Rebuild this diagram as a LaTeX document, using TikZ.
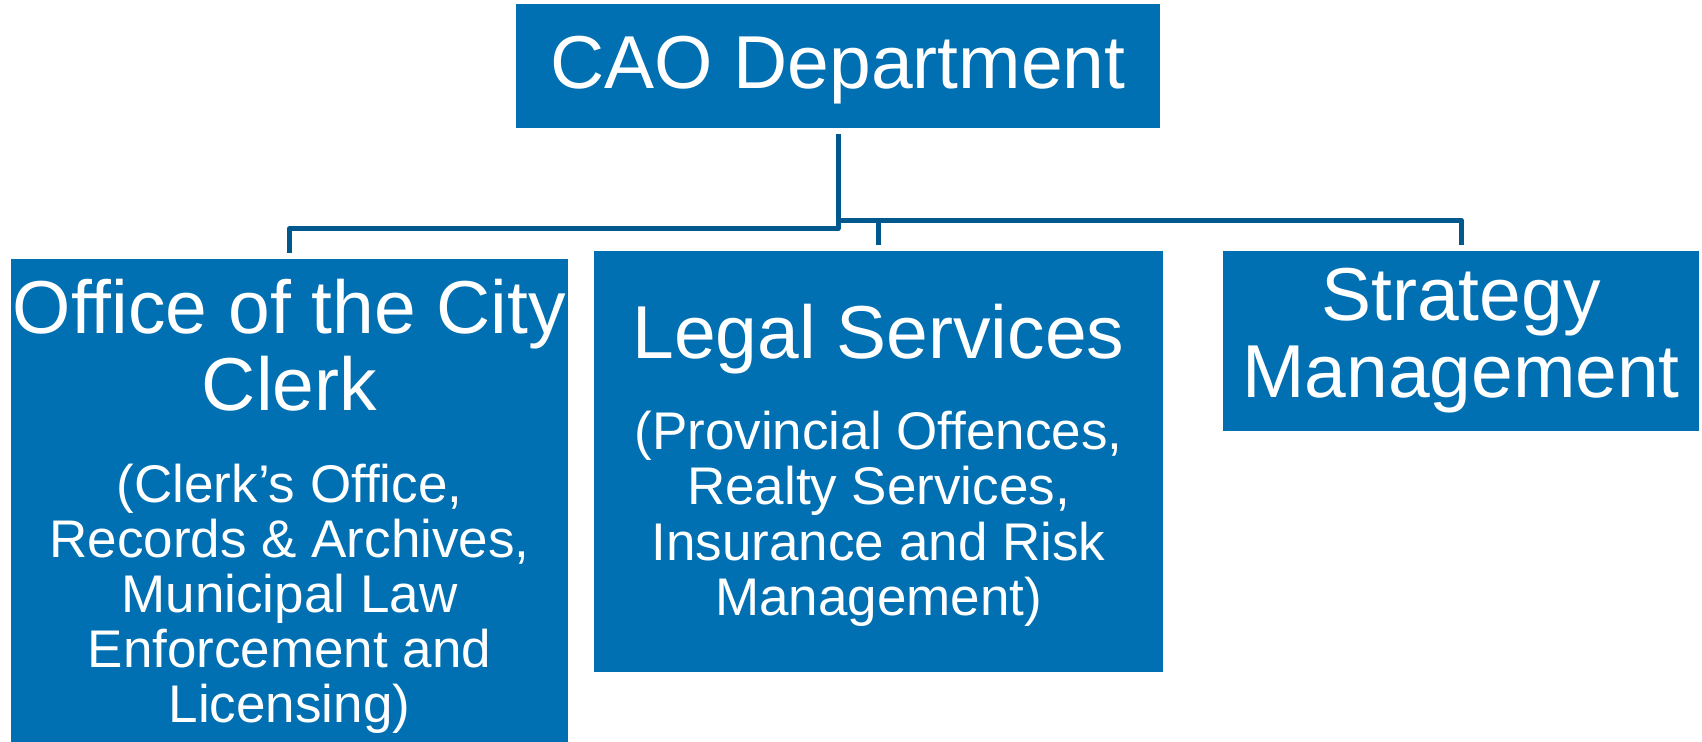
\documentclass[tikz,border=0pt]{standalone}
\usepackage{fontspec}
\setmainfont{Liberation Sans}
\usetikzlibrary{calc}
\definecolor{boxblue}{RGB}{0,112,178}
\definecolor{lineblue}{RGB}{0,88,140}
\tikzset{
  orgbox/.style={rectangle, fill=boxblue, inner sep=0pt, draw=none},
  titletext/.style={text=white, align=center, inner sep=0pt, anchor=base,
    font=\fontsize{37.5}{38.5}\selectfont},
  subtext/.style={text=white, align=center, inner sep=0pt, anchor=base,
    font=\fontsize{26.5}{27.5}\selectfont},
  conn/.style={draw=lineblue, line width=2.5pt, line join=round, line cap=butt}
}
\begin{document}
\begin{tikzpicture}[x=1pt,y=1pt]
\useasboundingbox (0,0) rectangle (851,-371);
% boxes
\node[orgbox, minimum width=322pt, minimum height=62pt] (cao) at (419,-33) {};
\node[orgbox, minimum width=278.5pt, minimum height=243.5pt] (office) at (144.75,-251.25) {};
\node[orgbox, minimum width=284.5pt, minimum height=210.5pt] (legal) at (439.25,-230.75) {};
\node[orgbox, minimum width=238pt, minimum height=90.25pt] (strategy) at (730.5,-170.6) {};
% texts (anchor=base is the baseline of the last line)
\node[titletext] (caot) at (419,-44.5) {CAO Department};
\node[titletext] (officet) at (144.75,-205.5) {Office of the City\\Clerk};
\node[subtext] (offices) at (144.75,-361) {(Clerk’s Office,\\Records \& Archives,\\Municipal Law\\Enforcement and\\Licensing)};
\node[titletext] (legalt) at (439.25,-179.5) {Legal Services};
\node[subtext] (legals) at (439.25,-307.5) {(Provincial Offences,\\Realty Services,\\Insurance and Risk\\Management)};
\node[titletext] (strategyt) at (730.5,-199) {Strategy\\Management};
% connectors
\draw[conn] ($(cao.south)+(0,-3pt)$) |- ($(office.north)+(0,15pt)$) -- ($(office.north)+(0,3pt)$);
\draw[conn] ($(cao.south)+(0,-3pt)$) |- ($(legal.north)+(0,15.25pt)$) -- ($(legal.north)+(0,3pt)$);
\draw[conn] ($(cao.south)+(0,-3pt)$) |- ($(strategy.north)+(0,15.25pt)$) -- ($(strategy.north)+(0,3pt)$);
\end{tikzpicture}
\end{document}
